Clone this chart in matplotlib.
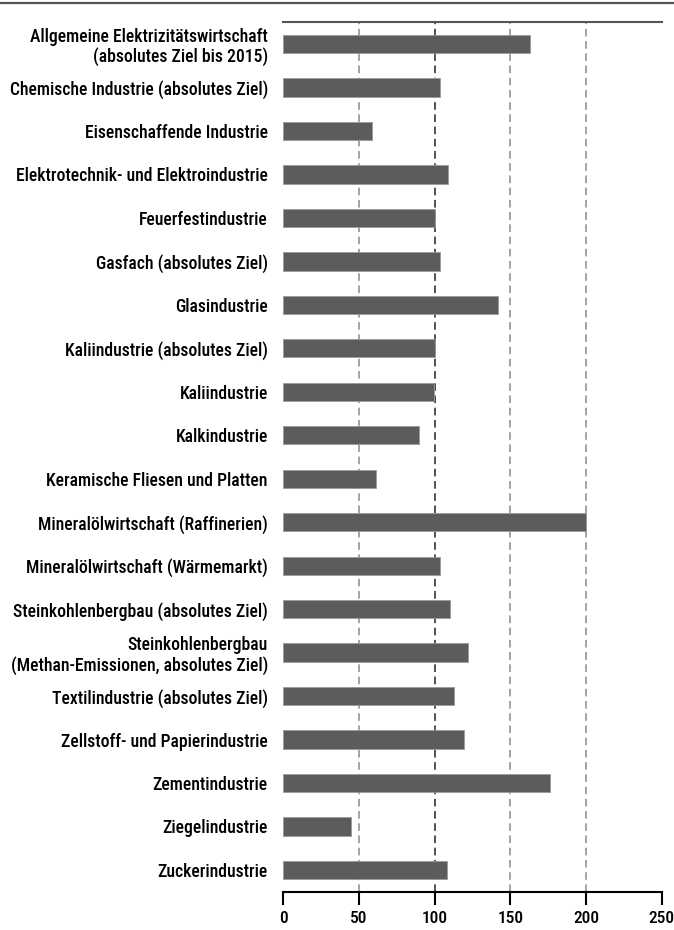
import matplotlib
matplotlib.use("Agg")
from matplotlib import pyplot as plt
from matplotlib import font_manager

# Branchen und Werte
branchen = [
    "Allgemeine Elektrizitätswirtschaft\n(absolutes Ziel bis 2015)",
    "Chemische Industrie (absolutes Ziel)",
    "Eisenschaffende Industrie",
    "Elektrotechnik- und Elektroindustrie",
    "Feuerfestindustrie",
    "Gasfach (absolutes Ziel)",
    "Glasindustrie",
    "Kaliindustrie (absolutes Ziel)",
    "Kaliindustrie",
    "Kalkindustrie",
    "Keramische Fliesen und Platten",
    "Mineralölwirtschaft (Raffinerien)",
    "Mineralölwirtschaft (Wärmemarkt)",
    "Steinkohlenbergbau (absolutes Ziel)",
    "Steinkohlenbergbau\n(Methan-Emissionen, absolutes Ziel)",
    "Textilindustrie (absolutes Ziel)",
    "Zellstoff- und Papierindustrie",
    "Zementindustrie",
    "Ziegelindustrie",
    "Zuckerindustrie",
]
werte = [163, 103.5, 59, 109, 100.5, 103.5, 142, 100.5, 99.5, 89.5,
         61, 200, 103.5, 110, 122, 113, 119.5, 176, 45, 108]
xticks = [0, 50, 100, 150, 200, 250]

fonts = font_manager.fontManager.ttflist
names = {f.name for f in fonts}
if "Roboto Condensed" in names:
    fam, lsize = "Roboto Condensed", 12.7
    weights = {f.weight for f in fonts if f.name == fam}
    lweight = 500 if 500 in weights else (600 if 600 in weights else 'bold')
else:
    fam, lsize, lweight = "Open Sans", 10.3, 'semibold'
plt.rcParams['font.family'] = [fam, 'DejaVu Sans']

fig = plt.figure(figsize=(6.74, 9.30), dpi=100)
ax = fig.add_axes([0.42, 0.0412, 0.562, 0.9348])

pos = list(range(len(branchen)))
ax.barh(pos, werte, height=0.42, color="#5c5c5c", edgecolor="#9a9a9a", linewidth=0.6, zorder=3)

for x in [50, 150, 200]:
    ax.axvline(x, color="#8a8a8a", linestyle=(0, (5, 3)), linewidth=1.1, zorder=1)
ax.axvline(100, color="#222222", linestyle=(0, (5, 3)), linewidth=1.1, zorder=1)

ax.set_xlim(0, 250)
ax.set_ylim(len(branchen) - 0.5, -0.5)
ax.set_yticks(pos)
ax.set_yticklabels(branchen, fontsize=lsize, fontweight=lweight, linespacing=1.12)
ax.set_xticks(xticks)
ax.set_xticklabels([str(t) for t in xticks], fontsize=12.5, fontweight=lweight)
ax.tick_params(axis='y', length=0, pad=11)
ax.tick_params(axis='x', length=9.5, width=1.5, direction='out', pad=4.5)

ax.spines['left'].set_visible(False)
ax.spines['right'].set_visible(False)
ax.spines['top'].set_color("#555555")
ax.spines['top'].set_linewidth(1.5)
ax.spines['bottom'].set_linewidth(1.5)

# Linie am oberen Bildrand
fig.add_artist(plt.Line2D([0, 1], [0.9965, 0.9965], color="#555555", linewidth=1.6))

fig.savefig("out.png", dpi=100)
